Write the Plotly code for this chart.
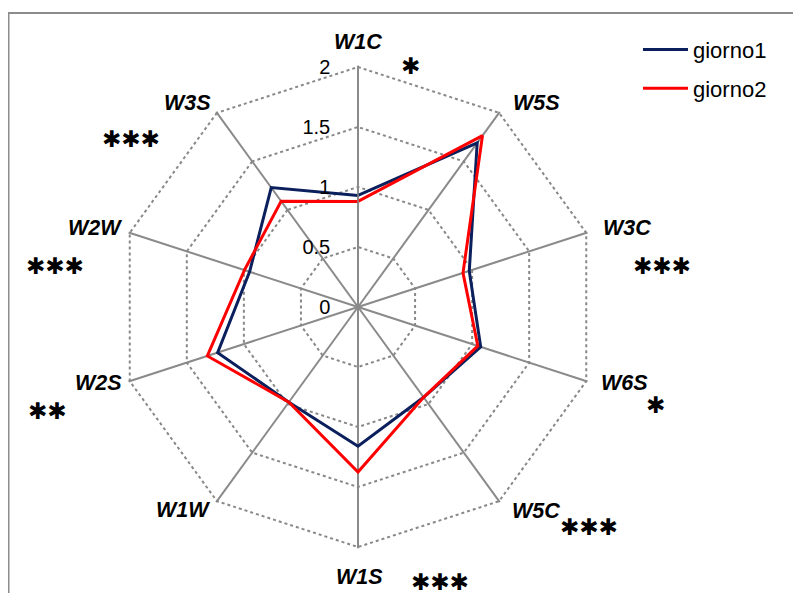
import plotly.graph_objects as go

categories = ["W1C", "W5S", "W3C", "W6S", "W5C", "W1S", "W1W", "W2S", "W2W", "W3S"]
giorno1 = [0.93, 1.69, 0.975, 1.075, 0.93, 1.16, 0.98, 1.23, 0.95, 1.23]
giorno2 = [0.88, 1.765, 0.92, 1.05, 0.93, 1.375, 0.98, 1.32, 0.995, 1.09]
radial_ticks = [0, 0.5, 1, 1.5, 2]
radial_ticktext = ["0", "0.5", "1", "1.5", "2"]
star_text = ["*", "***", "*", "***", "***", "**", "***", "***"]

W, H = 801, 593
OFF = 8  # page body margin
RMAX = 2.01
cx, cy, Rd = 358 - OFF, 307 - OFF, 240 * RMAX / 2

fig = go.Figure()
fig.add_trace(go.Scatterpolar(
    r=giorno1 + giorno1[:1], theta=categories + categories[:1],
    mode="lines", name="giorno1", legendgroup="g1",
    line=dict(color="#0a1f5c", width=3)))
fig.add_trace(go.Scatterpolar(
    r=giorno2 + giorno2[:1], theta=categories + categories[:1],
    mode="lines", name="giorno2", legendgroup="g2",
    line=dict(color="#ff0000", width=3)))

fig.update_layout(
    width=W, height=H,
    margin=dict(l=0, r=0, t=0, b=0),
    paper_bgcolor="white",
    font=dict(family="Liberation Sans, Arial, sans-serif", color="black"),
    polar=dict(
        domain=dict(x=[(cx - Rd) / W, (cx + Rd) / W], y=[(H - cy - Rd) / H, (H - cy + Rd) / H]),
        bgcolor="white",
        gridshape="linear",
        radialaxis=dict(
            range=[0, RMAX], tickvals=radial_ticks, ticktext=radial_ticktext,
            angle=90, side="counterclockwise", tickangle=90,
            showline=True, linecolor="#8a8a8a", linewidth=1.5,
            gridcolor="#888888", griddash="dot", gridwidth=1.5,
            ticks="outside", ticklen=20, tickcolor="rgba(0,0,0,0)",
            tickfont=dict(size=20, color="black"),
        ),
        angularaxis=dict(
            rotation=90, direction="clockwise",
            showline=False, showticklabels=False,
            gridcolor="#8a8a8a", gridwidth=1.5,
            ticks="",
        ),
    ),
    legend=dict(
        x=0.7865, y=0.965, xanchor="left", yanchor="top",
        font=dict(size=22), tracegroupgap=7, itemwidth=45,
        bgcolor="rgba(0,0,0,0)",
    ),
    shapes=[dict(type="rect", xref="paper", yref="paper",
                 x0=0.5 / W, x1=1.2, y0=-0.2, y1=(H - 5) / H,
                 line=dict(color="#8c8c8c", width=2))],
)

# category labels (placed like the original chart's labels)
label_pos = [(358, 42), (536, 103), (627, 228), (624, 383), (536, 511),
             (359, 577), (183, 510), (98, 383), (95, 228), (187, 103)]
for txt, (px, py) in zip(categories, label_pos):
    fig.add_annotation(
        x=(px - OFF) / W, y=(H - py + OFF) / H, xref="paper", yref="paper",
        text=txt, showarrow=False,
        font=dict(size=21.5, color="black", weight="bold", style="italic"),
        xanchor="center", yanchor="middle")

star_pos = [(410, 66), (662, 266), (655, 405), (589, 527), (440, 582), (47, 411), (55, 266), (131, 139)]
for txt, (px, py) in zip(star_text, star_pos):
    fig.add_annotation(
        x=(px - OFF) / W, y=(H - py + OFF) / H, xref="paper", yref="paper",
        text=txt.replace("*", "\u2731"), showarrow=False,
        font=dict(family="DejaVu Sans", size=23, color="black"),
        xanchor="center", yanchor="middle")

fig.write_html("out.html")
